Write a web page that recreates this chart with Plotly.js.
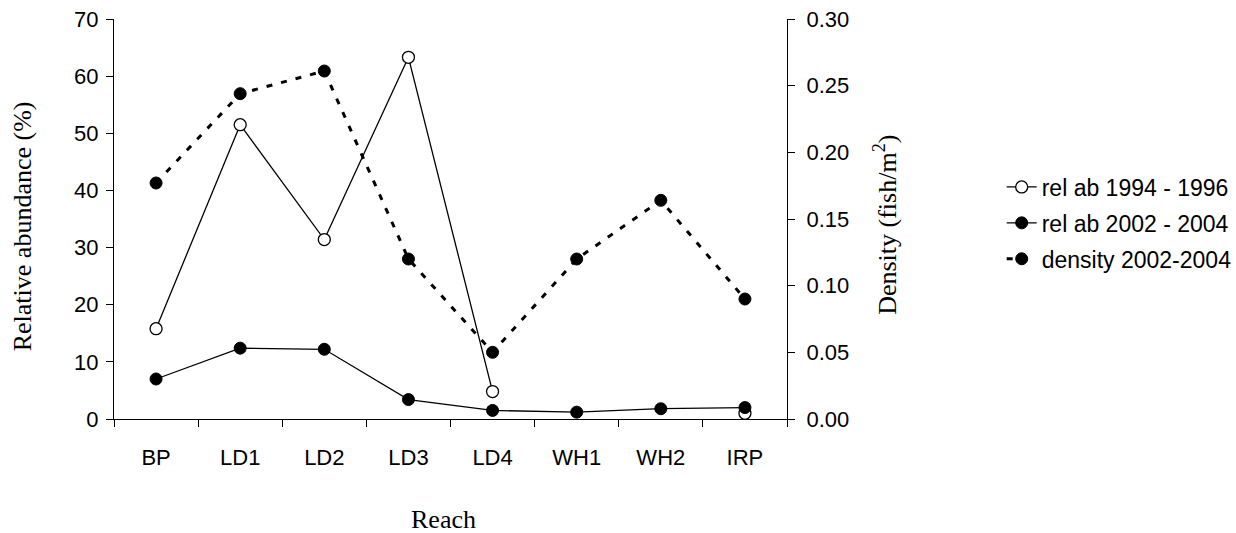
<!DOCTYPE html>
<html>
<head>
<meta charset="utf-8">
<script src="https://cdn.plot.ly/plotly-3.0.1.min.js"></script>
<style>
html,body{margin:0;padding:0;background:#fff;}
#chart{width:1236px;height:533px;}
</style>
</head>
<body>
<div id="chart"></div>
<script>
const reaches = ["BP","LD1","LD2","LD3","LD4","WH1","WH2","IRP"];
const relAb1994_1996 = [15.8, 51.5, 31.4, 63.3, 4.8, null, null, 1.0];
const relAb2002_2004 = [7.0, 12.4, 12.2, 3.4, 1.5, 1.2, 1.8, 2.0];
const density2002_2004 = [0.177, 0.244, 0.261, 0.120, 0.050, 0.120, 0.164, 0.090];
const seriesNames = ["rel ab 1994 - 1996", "rel ab 2002 - 2004", "density 2002-2004"];

const sans = "Liberation Sans, Arial, sans-serif";
const serif = "Liberation Serif, Times New Roman, serif";

const traces = [
  {
    x: reaches, y: relAb1994_1996, name: seriesNames[0], type: "scatter", mode: "lines+markers",
    connectgaps: false, legendgroup: "a",
    line: {color: "#000", width: 1.3},
    marker: {symbol: "circle", size: 12, color: "#fff", line: {color: "#000", width: 1.3}},
    xaxis: "x", yaxis: "y"
  },
  {
    x: reaches, y: relAb2002_2004, name: seriesNames[1], type: "scatter", mode: "lines+markers",
    legendgroup: "b",
    line: {color: "#000", width: 1.3},
    marker: {symbol: "circle", size: 12, color: "#000", line: {color: "#000", width: 1}},
    xaxis: "x", yaxis: "y"
  },
  {
    x: reaches, y: density2002_2004, name: seriesNames[2], type: "scatter", mode: "lines+markers",
    legendgroup: "c",
    line: {color: "#000", width: 3, dash: "6px,9px"},
    marker: {symbol: "circle", size: 12, color: "#000", line: {color: "#000", width: 1}},
    xaxis: "x", yaxis: "y2"
  }
];

const layout = {
  width: 1236, height: 533,
  margin: {l: 113.5, r: 449.3, t: 19.3, b: 113.7, pad: 0, autoexpand: false},
  paper_bgcolor: "#fff", plot_bgcolor: "#fff",
  showlegend: true,
  font: {family: sans, size: 22, color: "#000"},
  xaxis: {
    type: "category", range: [-0.5, 7.5], fixedrange: true, automargin: false,
    showline: true, linecolor: "#000", linewidth: 1,
    ticks: "outside", tickson: "boundaries", ticklen: 7, tickwidth: 1, tickcolor: "#000",
    showgrid: false, zeroline: false,
    tickfont: {family: sans, size: 22, color: "#000"},
    ticklabelstandoff: 19
  },
  yaxis: {
    range: [0, 70], dtick: 10, tick0: 0, automargin: false,
    showline: true, linecolor: "#000", linewidth: 1,
    ticks: "outside", ticklen: 7, tickwidth: 1, tickcolor: "#000",
    showgrid: false, zeroline: false,
    tickfont: {family: sans, size: 22, color: "#000"},
    ticklabelstandoff: 3
  },
  yaxis2: {
    overlaying: "y", side: "right", anchor: "x", automargin: false,
    range: [0, 0.30], dtick: 0.05, tick0: 0, tickformat: ".2f",
    showline: true, linecolor: "#000", linewidth: 1,
    ticks: "outside", ticklen: 7, tickwidth: 1, tickcolor: "#000",
    showgrid: false, zeroline: false,
    tickfont: {family: sans, size: 22, color: "#000"},
    ticklabelstandoff: 7
  },
  legend: {
    x: 1.319, xanchor: "left", y: 0.49, yanchor: "middle",
    bgcolor: "rgba(0,0,0,0)", borderwidth: 0,
    font: {family: sans, size: 23, color: "#000"},
    traceorder: "grouped", tracegroupgap: 3,
    itemwidth: 30
  },
  annotations: [
    {text: "Relative abundance (%)", xref: "paper", yref: "paper", x: -0.136, y: 0.483,
     xanchor: "center", yanchor: "middle", textangle: -90, showarrow: false,
     font: {family: serif, size: 26, color: "#000"}},
    {text: "Density (fish/m<sup>2</sup>)", xref: "paper", yref: "paper", x: 1.146, y: 0.486,
     xanchor: "center", yanchor: "middle", textangle: -90, showarrow: false,
     font: {family: serif, size: 26, color: "#000"}},
    {text: "Reach", xref: "paper", yref: "paper", x: 0.489, y: -0.25,
     xanchor: "center", yanchor: "middle", showarrow: false,
     font: {family: serif, size: 26, color: "#000"}}
  ]
};

Plotly.newPlot("chart", traces, layout, {displayModeBar: false, staticPlot: true});
</script>
</body>
</html>
